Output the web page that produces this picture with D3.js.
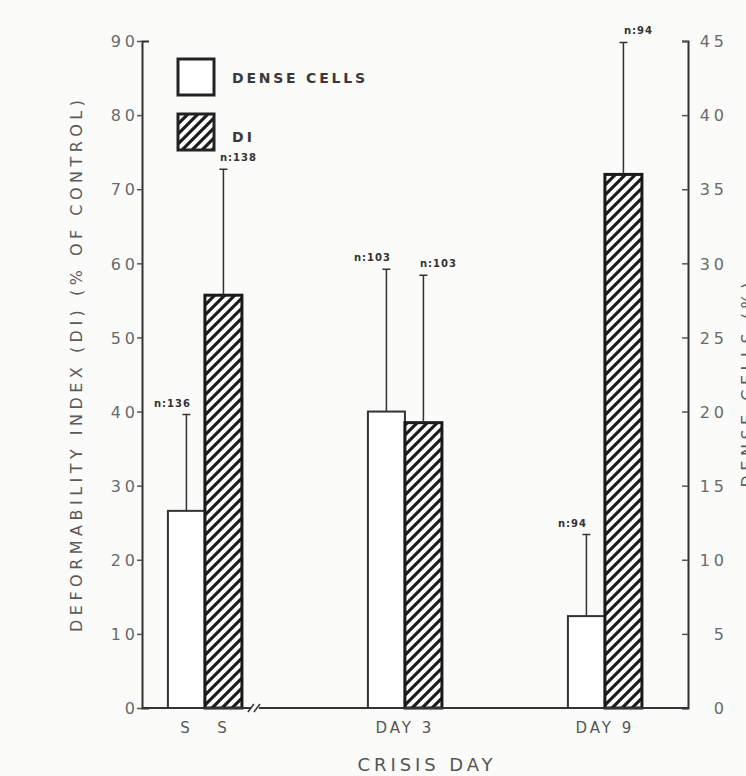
<!DOCTYPE html>
<html>
<head>
<meta charset="utf-8">
<script src="https://cdn.jsdelivr.net/npm/d3@7"></script>
<style>
  body { margin: 0; background: #fbfbfa; }
  svg { display: block; }
  text { font-family: "DejaVu Sans", sans-serif; }
</style>
</head>
<body>
<div id="chart"></div>
<script>
const width = 746;
const height = 776;

// values
const crisisDays = ['S', 'DAY 3', 'DAY 9'];
const denseCells = [13.3, 20.0, 6.2];      // % (right axis)
const denseCellsSD = [6.5, 9.6, 5.5];
const denseCellsN = ['n:136', 'n:103', 'n:94'];
const diValues = [55.7, 38.5, 72.0];       // % of control (left axis)
const diSD = [17.0, 19.9, 17.8];
const diN = ['n:138', 'n:103', 'n:94'];
const leftTicks = [0, 10, 20, 30, 40, 50, 60, 70, 80, 90];
const rightTicks = [0, 5, 10, 15, 20, 25, 30, 35, 40, 45];

const plotLeft = 142, plotRight = 688, plotTop = 41, plotBottom = 708;

let svg = d3.select('#chart')
          .append('svg')
          .attr('width', width)
          .attr('height', height);

// diagonal hatch for the DI bars
let hatch = svg.append('defs')
               .append('pattern')
               .attr('id', 'hatch')
               .attr('patternUnits', 'userSpaceOnUse')
               .attr('width', 10)
               .attr('height', 10);
hatch.append('rect').attr('width', 10).attr('height', 10).attr('fill', '#fff');
hatch.append('path')
     .attr('d', 'M-2,2 l4,-4 M0,10 l10,-10 M8,12 l4,-4')
     .attr('stroke', '#1c1c1c')
     .attr('stroke-width', 3.1);

const yLeft = d3.scaleLinear().domain([0, 90]).range([plotBottom, plotTop]);
const yRight = d3.scaleLinear().domain([0, 45]).range([plotBottom, plotTop]);
const xScale = d3.scaleBand()
                 .domain(crisisDays)
                 .range([plotLeft, plotRight])
                 .paddingInner(0.63)
                 .paddingOuter(0.18)
                 .align(0.36);
const xSub = d3.scaleBand().domain(['dense', 'di']).range([0, xScale.bandwidth()]);

// bars: dense cells (white, right axis) and DI (hatched, left axis)
let bars = [];
crisisDays.forEach((day, i) => {
    bars.push({day: day, key: 'dense', value: denseCells[i], top: denseCells[i] + denseCellsSD[i], n: denseCellsN[i], y: yRight});
    bars.push({day: day, key: 'di', value: diValues[i], top: diValues[i] + diSD[i], n: diN[i], y: yLeft});
});

let barG = svg.append('g');
barG.selectAll('rect')
    .data(bars)
    .enter()
    .append('rect')
    .attr('x', d => xScale(d.day) + xSub(d.key))
    .attr('y', d => d.y(d.value))
    .attr('width', xSub.bandwidth())
    .attr('height', d => plotBottom - d.y(d.value))
    .attr('fill', d => d.key === 'di' ? 'url(#hatch)' : '#fff')
    .attr('stroke', d => d.key === 'di' ? '#1a1a1a' : '#333')
    .attr('stroke-width', d => d.key === 'di' ? 3 : 2);

// error bars (upper only) with a small cap
const errX = d => xScale(d.day) + xSub(d.key) + xSub.bandwidth() / 2;
barG.selectAll('.err')
    .data(bars)
    .enter()
    .append('path')
    .attr('class', 'err')
    .attr('d', d => `M${errX(d)},${d.y(d.value)}V${d.y(d.top)}M${errX(d) - 4},${d.y(d.top)}H${errX(d) + 4}`)
    .attr('fill', 'none')
    .attr('stroke', '#333')
    .attr('stroke-width', 1.5);

barG.selectAll('.nlab')
    .data(bars)
    .enter()
    .append('text')
    .attr('class', 'nlab')
    .attr('x', d => errX(d) + (d.key === 'dense' ? -14 : 15))
    .attr('y', d => d.y(d.top) - 8)
    .attr('text-anchor', 'middle')
    .attr('font-size', 10)
    .attr('font-weight', 'bold')
    .attr('letter-spacing', 1)
    .attr('fill', '#333')
    .text(d => d.n);

// left axis
let axisL = svg.append('g')
   .attr('transform', `translate(${plotLeft},0)`)
   .call(d3.axisLeft(yLeft).tickValues(leftTicks).tickSize(5).tickSizeOuter(-7).tickFormat(d3.format('d')));
axisL.select('.domain').attr('stroke', '#333').attr('stroke-width', 2);
axisL.selectAll('.tick line').attr('stroke', '#555').attr('stroke-width', 1.5);
axisL.selectAll('.tick text')
     .attr('x', -3)
     .attr('dy', '0.36em')
     .attr('font-size', 16)
     .attr('letter-spacing', 4)
     .attr('fill', '#6a6a6a')
     .style('font-family', '"DejaVu Sans", sans-serif');

// right axis
let axisR = svg.append('g')
   .attr('transform', `translate(${plotRight},0)`)
   .call(d3.axisRight(yRight).tickValues(rightTicks).tickSize(-6).tickSizeOuter(-6).tickFormat(d3.format('d')));
axisR.select('.domain').attr('stroke', '#333').attr('stroke-width', 2);
axisR.selectAll('.tick line').attr('stroke', '#555').attr('stroke-width', 1.5);
axisR.selectAll('.tick text')
     .attr('x', 40)
     .attr('dy', '0.36em')
     .attr('text-anchor', 'end')
     .attr('font-size', 16)
     .attr('letter-spacing', 4)
     .attr('fill', '#6a6a6a')
     .style('font-family', '"DejaVu Sans", sans-serif');

// x axis with a break after the steady state group
const breakX = xScale(crisisDays[0]) + xScale.bandwidth() + 13;
svg.append('path')
   .attr('d', `M${plotLeft},${plotBottom}H${breakX - 4}M${breakX + 4},${plotBottom}H${plotRight}`)
   .attr('stroke', '#333')
   .attr('stroke-width', 2);
svg.append('path')
   .attr('d', `M${breakX - 7},${plotBottom + 4}l6,-8M${breakX - 1},${plotBottom + 4}l6,-8`)
   .attr('stroke', '#333')
   .attr('stroke-width', 1.5);

// category labels: steady state is marked under both bars
let xLabels = [];
crisisDays.forEach(day => {
    if (day === 'S') {
        xSub.domain().forEach(k => xLabels.push({text: day, x: xScale(day) + xSub(k) + xSub.bandwidth() / 2}));
    } else {
        xLabels.push({text: day, x: xScale(day) + xScale.bandwidth() / 2});
    }
});
svg.selectAll('.xlab')
   .data(xLabels)
   .enter()
   .append('text')
   .attr('class', 'xlab')
   .attr('x', d => d.x)
   .attr('y', plotBottom + 25)
   .attr('text-anchor', 'middle')
   .attr('font-size', 15)
   .attr('letter-spacing', 3)
   .attr('fill', '#555')
   .text(d => d.text);

// axis titles
svg.append('text')
   .attr('x', (plotLeft + plotRight) / 2 + 10)
   .attr('y', 771)
   .attr('text-anchor', 'middle')
   .attr('font-size', 18)
   .attr('textLength', 135)
   .attr('lengthAdjust', 'spacing')
   .attr('fill', '#555')
   .text('CRISIS DAY');
svg.append('text')
   .attr('transform', 'translate(82,366) rotate(-90)')
   .attr('text-anchor', 'middle')
   .attr('font-size', 16)
   .attr('textLength', 532)
   .attr('lengthAdjust', 'spacing')
   .attr('fill', '#5a5a5a')
   .text('DEFORMABILITY INDEX (DI) (% OF CONTROL)');
svg.append('text')
   .attr('transform', 'translate(753,385) rotate(-90)')
   .attr('text-anchor', 'middle')
   .attr('font-size', 16)
   .attr('textLength', 205)
   .attr('lengthAdjust', 'spacing')
   .attr('fill', '#5a5a5a')
   .text('DENSE CELLS (%)');

// legend
const legendItems = [
    {label: 'DENSE CELLS', fill: '#fff', len: 133},
    {label: 'DI', fill: 'url(#hatch)', len: 20}
];
let legend = svg.selectAll('.legend')
                .data(legendItems)
                .enter()
                .append('g')
                .attr('class', 'legend')
                .attr('transform', (d, i) => `translate(178,${59 + i * 55})`);
legend.append('rect')
      .attr('width', 36)
      .attr('height', 36)
      .attr('fill', d => d.fill)
      .attr('stroke', '#222')
      .attr('stroke-width', 3);
legend.append('text')
      .attr('x', 54)
      .attr('y', (d, i) => i === 0 ? 24 : 28)
      .attr('font-size', 14)
      .attr('font-weight', 'bold')
      .attr('textLength', d => d.len)
      .attr('lengthAdjust', 'spacing')
      .attr('fill', '#3a3a3a')
      .text(d => d.label);
</script>
</body>
</html>
